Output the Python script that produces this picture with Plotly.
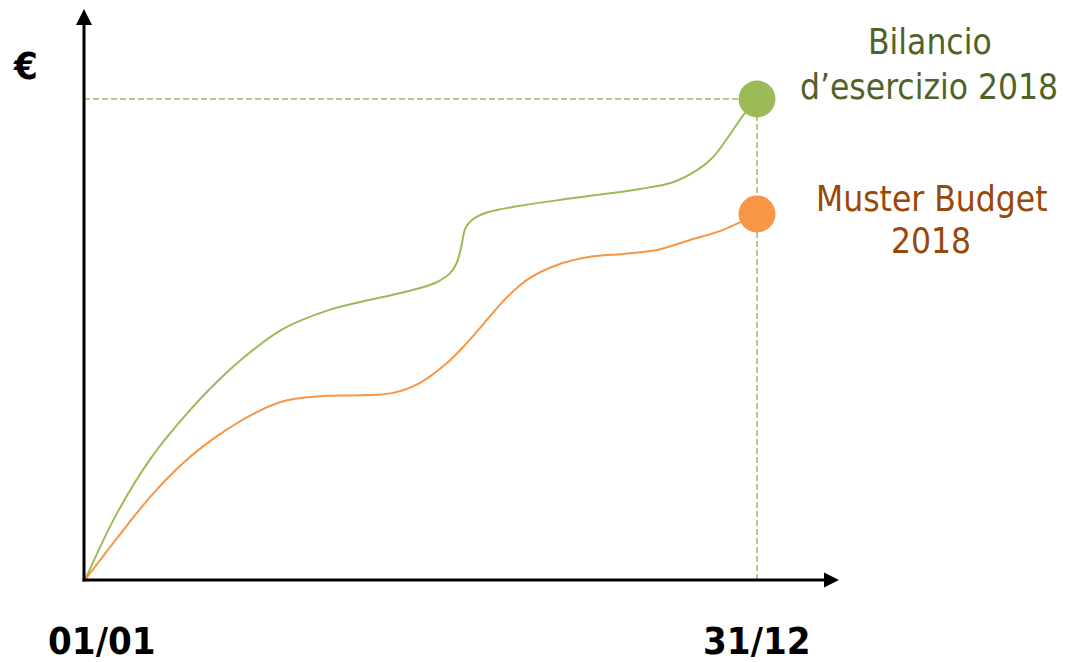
import plotly.graph_objects as go

# ---- data (day of year, cumulative value; final balance = 100) ----
bil_days = [0, 17.4, 35.9, 53.8, 71.7, 90.2, 108.1, 131.5, 149.4, 167.3, 182.0,
            191.0, 198.3, 201.9, 204.6, 206.5, 210.0, 218.2, 236.3, 265.1, 301.5,
            319.4, 332.4, 341.1, 358.5, 365]
bil_vals = [0, 13.9, 25.4, 33.9, 41.2, 47.5, 52.3, 56.0, 57.8, 59.3, 60.7,
            61.9, 63.8, 65.9, 69.7, 73.0, 74.8, 76.4, 77.8, 79.4, 81.3,
            82.7, 85.2, 87.9, 97.1, 100]

bud_days = [0, 17.4, 35.9, 53.8, 71.7, 90.2, 108.1, 131.5, 149.4, 167.3, 182.0,
            196.6, 207.5, 214.6, 229.2, 241.7, 256.4, 274.3, 292.2, 310.7, 328.6,
            346.6, 365]
bud_vals = [0, 8.7, 17.5, 24.5, 29.9, 34.3, 37.2, 38.3, 38.4, 38.9, 41.0,
            45.1, 49.3, 52.4, 58.8, 62.8, 65.5, 67.2, 67.8, 68.6, 70.7,
            72.8, 76.1]

x_labels = ["01/01", "31/12"]
series_names = ["Bilancio<br>d’esercizio 2018", "Muster Budget<br>2018"]

# ---- colours ----
GREEN = "#9BBB59"
ORANGE = "#F79646"
GREEN_TXT = "#4F6228"
ORANGE_TXT = "#984807"

FONT = "DejaVu Sans Condensed, DejaVu Sans, sans-serif"

# ---- geometry (pixels) ----
W, H = 1066, 662
OX, OY = 85, 580          # origin of the drawn axes
TIP_X, TIP_Y = 839, 9     # arrow tips
PL, PR, PT, PB = 55, 850, 2, 600   # plotting area (a bit larger than the axes)
DX = 365 / 672            # days per pixel
DY = 100 / 481            # value units per pixel

x_range = [(PL - OX) * DX, (PR - OX) * DX]
y_range = [(OY - PB) * DY, (OY - PT) * DY]
X_TIP = (TIP_X - OX) * DX
Y_TIP = (OY - TIP_Y) * DY
AXIS_X = -1 * DX          # y-axis sits one pixel left of the origin


def paper(xp, yp):
    """pixel position -> paper coordinates"""
    return (xp - PL) / (PR - PL), (PB - yp) / (PB - PT)


fig = go.Figure()

fig.add_trace(go.Scatter(x=bil_days, y=bil_vals, mode="lines",
                         line=dict(color=GREEN, width=2, shape="spline", smoothing=1),
                         hoverinfo="skip", showlegend=False))
fig.add_trace(go.Scatter(x=bud_days, y=bud_vals, mode="lines",
                         line=dict(color=ORANGE, width=2, shape="spline", smoothing=1),
                         hoverinfo="skip", showlegend=False))

# end-of-year points
fig.add_trace(go.Scatter(x=[bil_days[-1]], y=[bil_vals[-1]], mode="markers",
                         marker=dict(color=GREEN, size=37, line=dict(width=0)),
                         cliponaxis=False, hoverinfo="skip", showlegend=False))
fig.add_trace(go.Scatter(x=[bud_days[-1]], y=[bud_vals[-1]], mode="markers",
                         marker=dict(color=ORANGE, size=37, line=dict(width=0)),
                         cliponaxis=False, hoverinfo="skip", showlegend=False))

shapes = []
# dashed guide lines to the final balance
dash = dict(color=GREEN, width=1.5, dash="6px,3px")
shapes.append(dict(type="line", layer="below", x0=AXIS_X, x1=bil_days[-1],
                   y0=bil_vals[-1], y1=bil_vals[-1], line=dash))
shapes.append(dict(type="line", layer="below", x0=bil_days[-1], x1=bil_days[-1],
                   y0=0, y1=bil_vals[-1], line=dash))

# axes with arrowheads
axis_line = dict(color="black", width=3)
shapes.append(dict(type="line", layer="above", x0=AXIS_X - 1.5 * DX, x1=X_TIP - 14 * DX,
                   y0=0, y1=0, line=axis_line))
shapes.append(dict(type="line", layer="above", x0=AXIS_X, x1=AXIS_X,
                   y0=-1.5 * DY, y1=Y_TIP - 15 * DY, line=axis_line))
shapes.append(dict(type="path", layer="above", xref="x", yref="y",
                   xsizemode="pixel", ysizemode="pixel",
                   xanchor=X_TIP, yanchor=0,
                   path="M 0,0 L -15,7.5 L -15,-7.5 Z",
                   fillcolor="black", line=dict(width=0)))
shapes.append(dict(type="path", layer="above", xref="x", yref="y",
                   xsizemode="pixel", ysizemode="pixel",
                   xanchor=AXIS_X, yanchor=Y_TIP,
                   path="M 0,0 L -8,-16 L 8,-16 Z",
                   fillcolor="black", line=dict(width=0)))

annotations = []


def label(text, xp, yp, size, color, bold=False, box_h=None):
    x, y = paper(xp, yp)
    ann = dict(
        text=f"<b>{text}</b>" if bold else text,
        x=x, y=y, xref="paper", yref="paper",
        xanchor="center", yanchor="middle", showarrow=False,
        font=dict(family=FONT, size=size, color=color))
    if box_h:
        ann["height"] = box_h
    annotations.append(ann)


label("€", 25, 66, 38, "black", bold=True)
label(x_labels[0], 102, 641, 38, "black", bold=True, box_h=32)
label(x_labels[1], 757, 641, 38, "black", bold=True, box_h=32)

b1, b2 = series_names[0].split("<br>")
m1, m2 = series_names[1].split("<br>")
label(b1, 930, 42, 35, GREEN_TXT)
label(b2, 929, 87, 35, GREEN_TXT)
label(m1, 931, 199, 35, ORANGE_TXT)
label(m2, 931, 241, 35, ORANGE_TXT)

fig.update_layout(
    width=W, height=H,
    margin=dict(l=PL, r=W - PR, t=PT, b=H - PB, pad=0),
    paper_bgcolor="white", plot_bgcolor="white",
    xaxis=dict(range=x_range, visible=False, fixedrange=True),
    yaxis=dict(range=y_range, visible=False, fixedrange=True),
    shapes=shapes, annotations=annotations,
)

fig.write_html("out.html")
